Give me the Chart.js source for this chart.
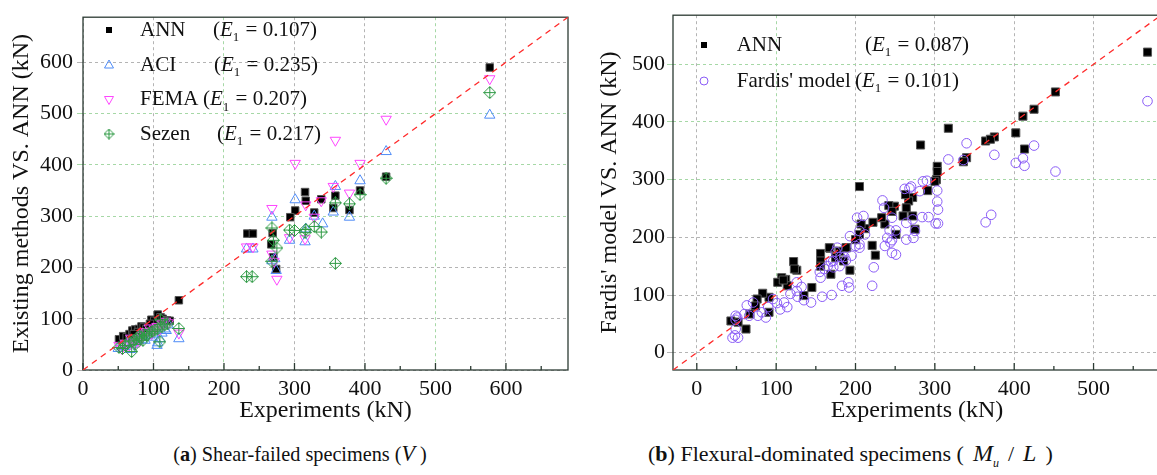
<!DOCTYPE html>
<html>
<head>
<meta charset="utf-8">
<script src="https://cdn.jsdelivr.net/npm/chart.js@4.4.1/dist/chart.umd.min.js"></script>
<style>
  html, body { margin: 0; padding: 0; background: #fff; }
  #page { position: relative; width: 1157px; height: 475px; overflow: hidden; }
  #boxA { position: absolute; left: 0; top: 0; }
  #boxB { position: absolute; left: 578px; top: 0; }
  .cap { position: absolute; top: 440px; font-family: "Liberation Serif", serif; font-size: 22px;
         color: #111; white-space: nowrap; }
  .cap i { font-size: 24px; }
  .capA { left: 300px; transform: translateX(-50%) scaleX(0.92); }
  .capB { left: 648px; }
  .gap { display: inline-block; width: 9px; }
</style>
</head>
<body>
<div id="page">
  <div id="boxA"><canvas id="shear" width="575" height="430"></canvas></div>
  <div id="boxB"><canvas id="flex" width="592" height="430"></canvas></div>
  <div class="cap capA">(<b>a</b>) Shear-failed specimens (<i>V</i> )</div>
  <div class="cap capB">(<b>b</b>) Flexural-dominated specimens (<span class="gap"></span><i>M<sub style="font-size:12px">u</sub></i><span class="gap"></span>/<span class="gap"></span><i>L</i><span class="gap"></span>)</div>
</div>
<script>
// ---- (a) shear-failed specimens, experiment vs prediction (kN)
var annX  = [577,430,393,378,358,355,338,328,315,316,301,294,269,267,270,274,233,241,136,
             51,57,62,66,70,74,79,83,86,90,97,101,106,110,113,119,123,78,72,95];
var annY  = [590,377,350,312,340,316,333,307,347,330,311,298,267,245,220,197,266,266,136,
             60,66,64,70,77,79,80,85,83,80,98,96,108,103,100,97,96,74,70,90];
var aciX  = [577,430,393,378,358,355,340,328,315,316,301,293,268,268,272,274,232,241,136,
             50,55,60,67,70,75,80,84,88,92,96,100,105,106,109,112,116,118,121,63,78];
var aciY  = [497,426,369,298,358,308,285,300,250,275,332,253,298,213,217,194,236,236,61,
             42,45,46,40,50,55,67,60,58,67,64,70,48,53,61,72,80,77,88,52,58];
var femaX = [577,430,358,393,378,355,338,328,315,316,301,293,268,268,271,275,232,241,136,
             51,55,60,65,70,74,78,83,86,90,94,97,101,105,108,112,117,121,68,80];
var femaY = [568,489,448,403,345,358,330,298,256,322,403,258,315,226,212,177,240,240,72,
             48,42,52,47,55,52,60,67,72,75,82,71,80,85,78,90,95,92,62,56];
var sezX  = [577,430,393,378,358,358,338,328,315,316,300,293,268,270,275,268,232,240,136,
             51,56,60,65,69,72,76,80,83,87,90,94,98,102,106,109,110,112,116,120,74,85];
var sezY  = [541,374,342,324,326,208,269,280,268,274,272,273,277,253,238,212,182,182,81,
             44,42,48,55,36,58,62,66,64,70,68,72,75,78,80,55,98,84,88,90,50,58];

// ---- (b) flexural-dominated specimens
var flexAnnX = [568,452,425,411,402,413,375,364,370,317,282,340,336,303,303,302,300,291,205,272,
                267,263,264,260,272,275,251,249,242,246,237,233,222,221,225,212,207,205,200,189,
                193,185,175,168,169,156,156,156,145,126,122,112,107,102,114,135,91,83,76,74,
                67,62,52,43,91,180,188,167,123,109];
var flexAnnY = [521,452,422,410,381,353,374,367,370,389,360,338,331,323,314,300,297,281,288,269,
                263,274,251,237,237,214,205,254,255,245,223,234,226,186,169,215,223,205,196,182,
                143,159,165,181,136,172,159,150,113,143,158,127,130,122,116,99,96,103,93,81,
                67,41,53,55,70,176,182,182,145,126];
var fardisX = [568,452,425,413,411,402,375,371,364,340,336,317,303,303,304,301,285,284,292,281,
               268,262,264,272,275,273,264,251,251,246,244,246,243,246,236,234,240,237,212,210,
               202,205,205,200,193,195,192,191,183,223,221,186,181,177,172,169,172,161,156,158,
               170,144,135,132,126,127,126,118,114,110,105,101,96,90,87,82,77,71,66,63,
               60,51,49,49,48,45,52,49,155,165,180,188,175,205,270,290,304];
var fardisY = [436,314,359,324,337,329,343,239,226,363,334,335,281,262,224,224,297,235,235,280,
               285,284,225,231,211,199,196,212,170,195,191,173,212,234,251,264,199,185,205,237,
               234,211,182,185,202,168,113,122,116,148,116,166,166,182,159,158,148,145,130,97,
               100,87,91,114,122,97,107,102,79,87,75,86,93,79,61,70,64,87,64,82,
               67,61,64,41,30,26,26,57,140,150,150,160,175,188,288,298,248];

// legend numbers
var shearNames = ['ANN', 'ACI', 'FEMA', 'Sezen'];
var shearE1 = ['0.107', '0.235', '0.207', '0.217'];
var flexNames = ['ANN', "Fardis' model"];
var flexE1 = ['0.087', '0.101'];

var SERIF = '"Liberation Serif", serif';
var GRAY = '#b4b4b4', GREEN = '#a6d8a6';
var BLUE = '#4f8cf7', PINK = '#ff45ff', GRN = '#2f9a45', PURP = '#8a5cf6';

function pts(xs, ys) { return xs.map(function (x, i) { return {x: x, y: ys[i]}; }); }

function sezenMark(size) {
  var c = document.createElement('canvas');
  c.width = c.height = size;
  var g = c.getContext('2d'), h = size / 2;
  g.strokeStyle = GRN; g.lineWidth = 1;
  g.beginPath();
  g.moveTo(h, 0.5); g.lineTo(size - 0.5, h); g.lineTo(h, size - 0.5); g.lineTo(0.5, h); g.closePath();
  g.moveTo(h, 0.5); g.lineTo(h, size - 0.5);
  g.moveTo(0.5, h); g.lineTo(size - 0.5, h);
  g.stroke();
  return c;
}

// box around plot + short inward ticks on the x axis
var frame = {
  id: 'frame',
  beforeDatasetsDraw: function (chart) {
    var ctx = chart.ctx, a = chart.chartArea, x = chart.scales.x;
    ctx.save();
    ctx.strokeStyle = '#2c3b33';
    ctx.lineWidth = 1.3;
    ctx.strokeRect(a.left, a.top, a.right - a.left, a.bottom - a.top);
    ctx.beginPath();
    for (var v = Math.ceil(x.min / 50) * 50; v <= x.max; v += 50) {
      var px = x.getPixelForValue(v);
      var len = v % 100 === 0 ? 7 : 4;
      ctx.moveTo(px, a.bottom); ctx.lineTo(px, a.bottom - len);
    }
    ctx.stroke();
    ctx.restore();
  }
};

function drawE1(ctx, x, y, val) {
  ctx.font = '21px ' + SERIF; ctx.fillText('(', x, y); x += ctx.measureText('(').width;
  ctx.font = 'italic 21px ' + SERIF; ctx.fillText('E', x, y); x += ctx.measureText('E').width;
  ctx.font = '13px ' + SERIF; ctx.fillText('1', x, y + 8); x += ctx.measureText('1').width + 1;
  ctx.font = '21px ' + SERIF; ctx.fillText(' = ' + val + ')', x, y);
}

function marker(ctx, kind, x, y) {
  ctx.save();
  ctx.lineWidth = 1;
  ctx.beginPath();
  if (kind === 'sq') {
    ctx.fillStyle = '#000'; ctx.fillRect(x - 3, y - 3, 6, 6);
  } else if (kind === 'tri') {
    ctx.strokeStyle = BLUE; ctx.moveTo(x, y - 5); ctx.lineTo(x + 4.5, y + 3); ctx.lineTo(x - 4.5, y + 3); ctx.closePath(); ctx.stroke();
  } else if (kind === 'itri') {
    ctx.strokeStyle = PINK; ctx.moveTo(x, y + 5); ctx.lineTo(x + 4.5, y - 3); ctx.lineTo(x - 4.5, y - 3); ctx.closePath(); ctx.stroke();
  } else if (kind === 'dia') {
    ctx.drawImage(sezenMark(11), x - 5.5, y - 5.5);
  } else if (kind === 'circ') {
    ctx.strokeStyle = PURP; ctx.arc(x, y, 4, 0, Math.PI * 2); ctx.stroke();
  }
  ctx.restore();
}

function legendPlugin(names, vals, kinds, mx, tx, ex, rows) {
  return {
    id: 'leg',
    afterDraw: function (chart) {
      var ctx = chart.ctx;
      ctx.save();
      ctx.textBaseline = 'middle';
      ctx.textAlign = 'left';
      for (var i = 0; i < names.length; i++) {
        marker(ctx, kinds[i], mx, rows[i]);
        ctx.fillStyle = '#111';
        ctx.font = '21px ' + SERIF;
        ctx.fillText(names[i], tx, rows[i]);
        drawE1(ctx, ex[i], rows[i], vals[i]);
      }
      ctx.restore();
    }
  };
}

function scales(xmin, xmax, ymin, ymax, greenX, greenY, yWidth, yTitle, yTitlePad, yTickPad) {
  var tickFont = {family: SERIF, size: 22};
  return {
    x: {
      type: 'linear', min: xmin, max: xmax,
      afterFit: function (s) { s.height = 60; },
      ticks: {stepSize: 100, includeBounds: false, padding: 6, color: '#111', font: tickFont},
      grid: {drawTicks: false, lineWidth: 1,
             color: function (c) { return greenX.indexOf(c.tick.value) >= 0 ? GREEN : GRAY; }},
      border: {display: false, dash: [3, 3]},
      title: {display: true, text: 'Experiments (kN)', color: '#111',
              font: {family: SERIF, size: 24}, padding: {top: 0, bottom: 5}}
    },
    y: {
      type: 'linear', min: ymin, max: ymax,
      afterFit: function (s) { s.width = yWidth; },
      ticks: {stepSize: 100, includeBounds: false, padding: yTickPad, color: '#111', font: tickFont},
      grid: {drawTicks: true, tickLength: 6, lineWidth: 1,
             color: function (c) { return greenY.indexOf(c.tick.value) >= 0 ? GREEN : GRAY; }},
      border: {display: false, dash: [3, 3]},
      title: {display: true, text: yTitle, color: '#111',
              font: {family: SERIF, size: 24}, padding: {top: yTitlePad, bottom: 0}}
    }
  };
}

new Chart(document.getElementById('shear'), {
  type: 'scatter',
  data: {
    datasets: [
      {data: [{x: 0, y: 0}, {x: 688, y: 688}], showLine: true, pointRadius: 0,
       borderColor: '#ff2a2a', borderWidth: 1.3, borderDash: [6, 5]},
      {label: 'Sezen', data: pts(sezX, sezY), pointStyle: sezenMark(13), pointRadius: 6},
      {label: 'FEMA', data: pts(femaX, femaY), pointStyle: 'triangle', rotation: 180, pointRadius: 6,
       borderColor: PINK, backgroundColor: 'rgba(0,0,0,0)', borderWidth: 1},
      {label: 'ACI', data: pts(aciX, aciY), pointStyle: 'triangle', pointRadius: 6,
       borderColor: BLUE, backgroundColor: 'rgba(0,0,0,0)', borderWidth: 1},
      {label: 'ANN', data: pts(annX, annY), pointStyle: 'rect', pointRadius: 5.3,
       borderColor: '#555', backgroundColor: '#000', borderWidth: 1}
    ]
  },
  options: {
    responsive: false, animation: false,
    layout: {padding: {top: 12, right: 6, left: 0, bottom: 0}},
    plugins: {legend: {display: false}, tooltip: {enabled: false}},
    scales: scales(0, 688, 0, 688, [200, 500], [300, 400, 500], 83,
                   'Existing methods VS. ANN (kN)', 7, 4)
  },
  plugins: [frame, legendPlugin(shearNames, shearE1, ['sq', 'tri', 'itri', 'dia'],
                                109, 140, [213, 214, 203, 217], [30, 65, 99.5, 134])]
});

new Chart(document.getElementById('flex'), {
  type: 'scatter',
  data: {
    datasets: [
      {data: [{x: -30, y: -30}, {x: 585, y: 585}], showLine: true, pointRadius: 0,
       borderColor: '#ff2a2a', borderWidth: 1.3, borderDash: [6, 5]},
      {label: "Fardis' model", data: pts(fardisX, fardisY), pointStyle: 'circle', pointRadius: 4.8,
       borderColor: PURP, backgroundColor: 'rgba(0,0,0,0)', borderWidth: 1},
      {label: 'ANN', data: pts(flexAnnX, flexAnnY), pointStyle: 'rect', pointRadius: 5.7,
       borderColor: '#555', backgroundColor: '#000', borderWidth: 1}
    ]
  },
  options: {
    responsive: false, animation: false,
    layout: {padding: {top: 13, right: 9, left: 0, bottom: 0}},
    plugins: {legend: {display: false}, tooltip: {enabled: false}},
    scales: scales(-30, 585, -30, 585, [100], [300, 400, 500], 95,
                   "Fardis' model VS. ANN (kN)", 17, 2)
  },
  plugins: [frame, legendPlugin(flexNames, flexE1, ['sq', 'circ'],
                                126, 158.7, [287, 277], [45, 81])]
});
</script>
</body>
</html>
